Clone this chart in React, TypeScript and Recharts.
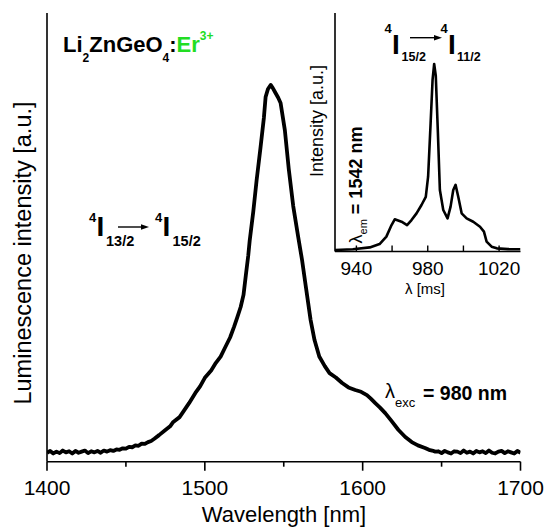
import React from 'react';
import { LineChart, Line, XAxis, YAxis } from 'recharts';

// Main spectrum: emission 4I13/2 -> 4I15/2 (wavelength nm, intensity a.u.)
const mainWavelength = [
  1400, 1402, 1404, 1406, 1408, 1410, 1412, 1414, 1416, 1418, 1420, 1422, 1424, 1426, 1428, 1430,
  1432, 1434, 1436, 1438, 1440, 1442, 1444, 1446,
  1448, 1450, 1452, 1454, 1456, 1458, 1460, 1462, 1464, 1466, 1468,
  1471, 1475, 1478, 1480, 1484, 1487, 1490, 1494, 1497, 1500,
  1504, 1507, 1510, 1513, 1516, 1518.5, 1520.5, 1522.7,
  1524.5, 1526, 1527.5, 1528.4, 1530.7, 1532.8, 1535.3, 1537.4, 1538.5, 1540,
  1541.7, 1543, 1544.8, 1546.5, 1548, 1550.7, 1553.2, 1556, 1559, 1561.6,
  1564, 1567, 1569.5, 1572.5, 1576, 1579, 1583, 1587, 1591, 1595.3,
  1599, 1602.7, 1605, 1608, 1611, 1614.3, 1618, 1622.7, 1627, 1631.1,
  1635, 1639.5, 1642, 1644, 1646,
  1648, 1650, 1652, 1654, 1656, 1658, 1660, 1662, 1664, 1666, 1668, 1670, 1672, 1674,
  1676, 1678, 1680, 1682, 1684, 1686, 1688, 1690, 1692, 1694, 1696, 1698, 1700,
];
const mainIntensity = [
  -0.2, 0.3, -0.4, 0.1, -0.3, 0.4, -0.1, 0.2, -0.4, 0.3, -0.2, 0.1, 0.4, -0.3, 0.2, -0.1,
  0.3, -0.2, 0.4, 0.1, 0.5, 0.3, 0.7, 0.6,
  1.0, 0.9, 1.4, 1.3, 1.8, 1.7, 2.3, 2.2, 2.7, 3.0, 3.6,
  4.6, 6.0, 7.0, 8.2, 9.5, 11.4, 13.3, 16.1, 17.9, 20.2,
  22.2, 24.3, 26.0, 28.6, 31.2, 34.1, 36.6, 39.5,
  42.8, 48.2, 53.5, 57.5, 65.5, 74.0, 83.0, 91.0, 96.7, 98.9,
  100, 99.2, 97.8, 96.5, 95.1, 87.7, 77.0, 67.0, 59.0, 52.3,
  45.0, 36.0, 30.5, 26.0, 23.4, 21.5, 20.3, 18.8, 17.6, 16.9,
  16.4, 15.5, 14.6, 13.3, 12.1, 10.6, 8.6, 6.0, 4.1, 2.7,
  1.8, 1.1, 0.6, 0.4, 0.1,
  0.2, -0.3, 0.3, -0.1, -0.4, 0.2, 0.1, -0.3, 0.4, -0.2, 0.1, -0.4, 0.3, -0.1,
  0.2, -0.3, 0.4, -0.2, -0.4, 0.1, 0.3, -0.3, 0.2, -0.1, -0.4, 0.3, -0.2,
];

// Inset: excitation spectrum 4I15/2 -> 4I11/2 (lambda em = 1542 nm)
const insetWavelength = [
  928, 938, 947.5, 953, 956.8, 959.7, 961.5, 963, 965.3, 968.4, 970.9, 973.7, 976.5, 978.9,
  980.2, 981.6, 982.7, 983.6, 984.5, 985.7, 986.8, 988.7, 991.1, 992.8, 994.3, 995.6, 997.1,
  999, 1001.8, 1005.5, 1009.3, 1011.5, 1013, 1015.8, 1018.7, 1025, 1032,
];
const insetIntensity = [
  0, 0.004, 0.014, 0.032, 0.072, 0.134, 0.165, 0.16, 0.152, 0.134, 0.161, 0.197, 0.242, 0.286,
  0.394, 0.681, 0.914, 1.0, 0.937, 0.627, 0.323, 0.215, 0.17, 0.233, 0.323, 0.35, 0.286,
  0.197, 0.17, 0.152, 0.125, 0.099, 0.045, 0.018, 0.009, 0.005, 0.004,
];

const mainTicks = [1400, 1450, 1500, 1550, 1600, 1650, 1700];
const mainTickLabels = [1400, 1500, 1600, 1700];
const insetTicks = [940, 960, 980, 1000, 1020];
const insetTickLabels = [940, 980, 1020];

const mainData = mainWavelength.map((nm, i) => ({ nm, v: mainIntensity[i] }));
const insetData = insetWavelength.map((nm, i) => ({ nm, v: insetIntensity[i] }));

const FONT = '"Liberation Sans", Arial, sans-serif';
const AX = { stroke: '#000', strokeWidth: 1.6 };

const MainTick = (props: any) => {
  const { x, y, payload } = props;
  const major = mainTickLabels.includes(payload.value);
  return (
    <g>
      <line x1={x} x2={x} y1={y} y2={y + (major ? 9 : 5)} stroke="#000" strokeWidth={1.6} />
      {major && (
        <text x={x} y={y + 33} textAnchor="middle" fontFamily={FONT} fontSize={21} fill="#000">
          {payload.value}
        </text>
      )}
    </g>
  );
};

const InsetTick = (props: any) => {
  const { x, y, payload } = props;
  const lab = insetTickLabels.includes(payload.value);
  return (
    <g>
      <line x1={x} x2={x} y1={y} y2={y - 6} stroke="#000" strokeWidth={1.4} />
      {lab && (
        <text x={x} y={y + 23.5} textAnchor="middle" fontFamily={FONT} fontSize={19} fill="#000">
          {payload.value}
        </text>
      )}
    </g>
  );
};

export default function App() {
  return (
    <div style={{ position: 'absolute', left: 0, top: 0, width: 547, height: 529, background: '#fff' }}>
      <div style={{ position: 'absolute', left: 0, top: 0 }}>
        <LineChart width={547} height={529} data={mainData} margin={{ top: 13, right: 26.5, left: 0, bottom: 0 }}>
          <XAxis
            dataKey="nm"
            type="number"
            domain={[1400, 1700]}
            ticks={mainTicks}
            interval={0}
            height={67.3}
            tickSize={0}
            tickMargin={0}
            tickLine={false}
            axisLine={AX}
            tick={MainTick}
            allowDataOverflow
          />
          <XAxis xAxisId="top" orientation="top" dataKey="nm" type="number" domain={[1400, 1700]} height={0} tick={false} tickLine={false} axisLine={AX} />
          <YAxis yAxisId="main" type="number" domain={[-2.64, 119.6]} width={47} tick={false} tickLine={false} axisLine={AX} allowDataOverflow />
          <YAxis yAxisId="r" orientation="right" type="number" domain={[-2.64, 119.6]} width={0} tick={false} tickLine={false} axisLine={AX} />
          <Line yAxisId="main" dataKey="v" type="linear" stroke="#000" strokeWidth={3.8} dot={false} isAnimationActive={false} strokeLinejoin="round" />
        </LineChart>
      </div>
      <div style={{ position: 'absolute', left: 300, top: 0 }}>
        <LineChart width={247} height={310} data={insetData} margin={{ top: 13, right: 26.5, left: 0, bottom: 0 }}>
          <XAxis
            dataKey="nm"
            type="number"
            domain={[928, 1032]}
            ticks={insetTicks}
            interval={0}
            height={58.5}
            tickSize={0}
            tickMargin={0}
            tickLine={false}
            axisLine={AX}
            tick={InsetTick}
            allowDataOverflow
          />
          <YAxis type="number" domain={[-0.008, 1.274]} width={35} tick={false} tickLine={false} axisLine={AX} allowDataOverflow />
          <Line dataKey="v" type="linear" stroke="#000" strokeWidth={2.6} dot={false} isAnimationActive={false} strokeLinejoin="round" />
        </LineChart>
      </div>
      <svg width={547} height={529} style={{ position: 'absolute', left: 0, top: 0, pointerEvents: 'none' }} fontFamily={FONT}>
        {/* axis titles */}
        <text x={284} y={522} textAnchor="middle" fontSize={22} fill="#000">Wavelength [nm]</text>
        <text transform="translate(31,253) rotate(-90)" textAnchor="middle" fontSize={23.5} fill="#000">Luminescence intensity [a.u.]</text>
        <text transform="translate(323,121) rotate(-90)" textAnchor="middle" fontSize={18} fill="#000">Intensity [a.u.]</text>
        <text x={425} y={294} textAnchor="middle" fontSize={15} fill="#000">λ [ms]</text>

        {/* compound */}
        <text x={63} y={52} fontSize={22} fontWeight="bold" fill="#000">
          Li<tspan dy={10} fontSize={12}>2</tspan>
          <tspan dy={-10}>ZnGeO</tspan>
          <tspan dy={10} fontSize={12}>4</tspan>
          <tspan dy={-10}>:</tspan>
          <tspan fill="#22dd22">Er</tspan>
          <tspan dy={-12} fontSize={12} fill="#22dd22">3+</tspan>
        </text>

        {/* main transition */}
        <g fontWeight="bold" fill="#000">
          <text x={89} y={222} fontSize={13}>4</text>
          <text x={96.5} y={236} fontSize={28}>I</text>
          <text x={106} y={246} fontSize={14.5}>13/2</text>
          <text x={155} y={222} fontSize={13}>4</text>
          <text x={162.5} y={236} fontSize={28}>I</text>
          <text x={172.5} y={246} fontSize={14.5}>15/2</text>
        </g>
        <line x1={118} y1={227} x2={143} y2={227} stroke="#000" strokeWidth={1.4} />
        <polygon points="149,227 141,224.3 141,229.7" fill="#000" />

        {/* inset transition */}
        <g fontWeight="bold" fill="#000">
          <text x={384.5} y={33} fontSize={13}>4</text>
          <text x={392} y={54} fontSize={28}>I</text>
          <text x={401.5} y={61} fontSize={12.5}>15/2</text>
          <text x={440.5} y={33} fontSize={13}>4</text>
          <text x={448} y={54} fontSize={28}>I</text>
          <text x={457} y={61} fontSize={12.5}>11/2</text>
        </g>
        <line x1={410} y1={37.7} x2={436} y2={37.7} stroke="#000" strokeWidth={1.4} />
        <polygon points="442,37.7 434,35 434,40.4" fill="#000" />

        {/* excitation wavelength */}
        <text x={385} y={398} fontSize={20} fill="#000">
          λ<tspan dy={9} fontSize={13}>exc</tspan>
        </text>
        <text x={423} y={400} fontSize={19.5} fontWeight="bold" fill="#000">= 980 nm</text>

        {/* emission wavelength (rotated) */}
        <text transform="translate(362,185) rotate(-90)" textAnchor="middle" fontSize={18} fill="#000">
          λ<tspan dy={5} fontSize={11}>em</tspan>
          <tspan dy={-5} fontWeight="bold"> = 1542 nm</tspan>
        </text>
      </svg>
    </div>
  );
}
